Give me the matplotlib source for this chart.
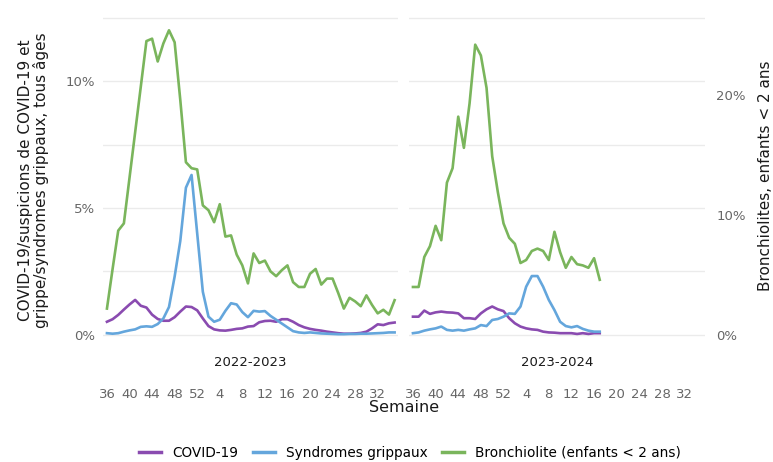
import numpy as np
import matplotlib
matplotlib.use("Agg")
import matplotlib.pyplot as plt
from matplotlib.lines import Line2D

# ---------------- data ----------------
seasons = ["2022-2023", "2023-2024"]
weeks_s1 = list(range(36, 53)) + list(range(1, 36))          # 52 weeks
weeks_s2 = list(range(36, 53)) + list(range(1, 18))          # up to week 17
tick_weeks = [36, 40, 44, 48, 52, 4, 8, 12, 16, 20, 24, 28, 32]

covid_s1 = [0.52, 0.62, 0.79, 1.0, 1.2, 1.38, 1.15, 1.08, 0.8, 0.63, 0.56, 0.56, 0.7,
            0.92, 1.12, 1.1, 0.97, 0.65, 0.35, 0.22, 0.18, 0.17, 0.2, 0.24, 0.26, 0.33,
            0.35, 0.5, 0.55, 0.56, 0.52, 0.62, 0.62, 0.52, 0.39, 0.3, 0.24, 0.2, 0.17,
            0.13, 0.1, 0.07, 0.05, 0.05, 0.06, 0.08, 0.13, 0.26, 0.42, 0.39, 0.46, 0.49]
grippe_s1 = [0.07, 0.05, 0.07, 0.13, 0.18, 0.22, 0.32, 0.34, 0.32, 0.43, 0.65, 1.1, 2.3,
             3.7, 5.8, 6.3, 4.0, 1.7, 0.72, 0.52, 0.6, 0.95, 1.25, 1.2, 0.9, 0.7, 0.95,
             0.92, 0.94, 0.75, 0.6, 0.45, 0.3, 0.15, 0.1, 0.08, 0.1, 0.08, 0.06, 0.05,
             0.04, 0.03, 0.03, 0.04, 0.04, 0.05, 0.05, 0.06, 0.07, 0.08, 0.1, 0.1]
bronch_s1 = [2.2, 5.5, 8.7, 9.3, 13.1, 16.9, 20.7, 24.5, 24.7, 22.8, 24.3, 25.4, 24.4,
             19.6, 14.4, 13.9, 13.8, 10.8, 10.4, 9.4, 10.9, 8.2, 8.3, 6.7, 5.8, 4.3,
             6.8, 6.0, 6.2, 5.3, 4.9, 5.4, 5.8, 4.4, 4.0, 4.0, 5.1, 5.5, 4.2, 4.7, 4.7,
             3.5, 2.2, 3.1, 2.8, 2.4, 3.3, 2.5, 1.8, 2.1, 1.7, 2.9]

covid_s2 = [0.72, 0.72, 0.96, 0.83, 0.89, 0.92, 0.89, 0.88, 0.85, 0.66, 0.66, 0.63, 0.85,
            1.01, 1.12, 1.01, 0.94, 0.66, 0.46, 0.33, 0.26, 0.22, 0.2, 0.13, 0.1, 0.09,
            0.07, 0.07, 0.07, 0.04, 0.07, 0.04, 0.07, 0.07]
grippe_s2 = [0.07, 0.1, 0.17, 0.22, 0.26, 0.33, 0.2, 0.17, 0.2, 0.17, 0.22, 0.26, 0.39,
             0.35, 0.59, 0.63, 0.72, 0.85, 0.83, 1.12, 1.9, 2.32, 2.32, 1.9, 1.38, 0.98,
             0.52, 0.35, 0.3, 0.35, 0.24, 0.17, 0.13, 0.13]
bronch_s2 = [4.0, 4.0, 6.5, 7.4, 9.1, 7.9, 12.7, 13.9, 18.2, 15.6, 19.3, 24.2, 23.3, 20.6,
             14.9, 11.9, 9.3, 8.1, 7.6, 6.0, 6.25, 7.0, 7.2, 7.0, 6.25, 8.6, 6.9, 5.6,
             6.5, 5.9, 5.8, 5.6, 6.4, 4.6]

C_COVID = "#8a4bb0"
C_GRIPPE = "#64a6dc"
C_BRONCH = "#7ab55c"
GRID = "#ebebeb"
TICK = "#666666"

plt.rcParams["font.family"] = ["DejaVu Sans"]

W, H = 773, 462
fig = plt.figure(figsize=(W / 100, H / 100), dpi=100)

def fx(px):
    return px / W

def fy(py):
    return 1 - py / H

top_px, bot_px = 15.0, 350.2
left_lim = (-0.6, 12.6)
ratio = 2.117
right_lim = (left_lim[0] * ratio, left_lim[1] * ratio)
panels = [(103, 398), (409, 705)]

season_weeks = [weeks_s1, weeks_s2]
full_weeks = weeks_s1  # full season axis
covid = [covid_s1, covid_s2]
grippe = [grippe_s1, grippe_s2]
bronch = [bronch_s1, bronch_s2]

tick_pos = [full_weeks.index(w) for w in tick_weeks]

lw = 1.9
for k, (x0, x1) in enumerate(panels):
    ax = fig.add_axes([fx(x0), fy(bot_px), fx(x1 - x0), (bot_px - top_px) / H])
    ax2 = ax.twinx()
    x = np.arange(len(season_weeks[k]))
    ax.plot(x, covid[k], color=C_COVID, lw=lw, zorder=3)
    ax.plot(x, grippe[k], color=C_GRIPPE, lw=lw, zorder=3)
    ax2.plot(x, bronch[k], color=C_BRONCH, lw=lw, zorder=3)
    for a in (ax, ax2):
        a.set_xlim(-0.7, 51.6)
        for s in a.spines.values():
            s.set_visible(False)
        a.set_facecolor("none")
    ax.set_ylim(*left_lim)
    ax2.set_ylim(*right_lim)
    ax.set_yticks([0, 5, 10])
    ax.set_yticks([2.5, 7.5, 12.5], minor=True)
    ax.grid(True, axis="y", which="both", color=GRID, lw=1.0)
    ax.set_axisbelow(True)
    ax.set_xticks(tick_pos)
    ax.set_xticklabels([str(w) for w in tick_weeks])
    ax.tick_params(axis="x", length=0, pad=27, labelsize=9.5, labelcolor=TICK)
    ax.tick_params(axis="y", which="both", length=0, labelsize=9.5, labelcolor=TICK, pad=6)
    ax2.tick_params(axis="y", length=0, labelsize=9.5, labelcolor=TICK, pad=8)
    if k == 0:
        ax.set_yticklabels(["0%", "5%", "10%"])
        ax2.set_yticks([])
    else:
        ax.set_yticklabels([])
        ax2.set_yticks([0, 10, 20])
        ax2.set_yticklabels(["0%", "10%", "20%"])
    ax.text(0.5, fy(363), seasons[k], transform=matplotlib.transforms.blended_transform_factory(ax.transAxes, fig.transFigure),
            ha="center", va="center", fontsize=9.5, color="#1a1a1a")

fig.text(fx(404), fy(408), "Semaine", ha="center", va="center", fontsize=11.5, color="#1a1a1a")
fig.text(fx(34), fy(180), "COVID-19/suspicions de COVID-19 et\ngrippe/syndromes grippaux, tous âges",
         rotation=90, ha="center", va="center", fontsize=11, color="#1a1a1a", linespacing=1.0)
fig.text(fx(765), fy(176), "Bronchiolites, enfants < 2 ans", rotation=90,
         ha="center", va="center", fontsize=11, color="#1a1a1a")

handles = [Line2D([], [], color=C_COVID, lw=2.5),
           Line2D([], [], color=C_GRIPPE, lw=2.5),
           Line2D([], [], color=C_BRONCH, lw=2.5)]
fig.legend(handles, ["COVID-19", "Syndromes grippaux", "Bronchiolite (enfants < 2 ans)"],
           loc="center", bbox_to_anchor=(fx(410), fy(453)), ncol=3, frameon=False,
           fontsize=9.8, handlelength=1.6, columnspacing=1.1, handletextpad=0.8)

fig.savefig("out.png", dpi=100)
